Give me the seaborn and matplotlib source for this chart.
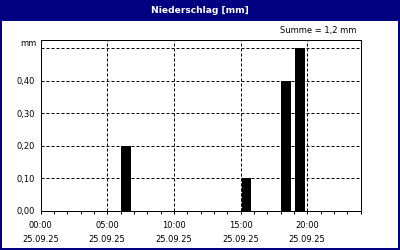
import numpy as np
import pandas as pd
import matplotlib
matplotlib.use("Agg")
import matplotlib.pyplot as plt
from matplotlib.patches import Rectangle
from matplotlib.ticker import MultipleLocator
import seaborn as sns

# ---- data ----
hour_start = [6, 15, 18, 19]          # hour of day the interval starts
precip_mm = [0.20, 0.10, 0.40, 0.50]  # precipitation per interval [mm]
x_ticks = [0, 5, 10, 15, 20]
x_tick_labels = ["00:00\n25.09.25", "05:00\n25.09.25", "10:00\n25.09.25",
                 "15:00\n25.09.25", "20:00\n25.09.25"]
y_ticks = [0.0, 0.1, 0.2, 0.3, 0.4]
y_tick_labels = ["0,00", "0,10", "0,20", "0,30", "0,40"]
title = "Niederschlag [mm]"
sum_text = "Summe = 1,2 mm"
unit = "mm"

# ---- style ----
NAVY = "#000080"
BAR_OFFSET = 0.425
PX = 72 / 100  # one pixel in points

sns.set_style("white")
plt.rcParams["font.family"] = ["DejaVu Sans"]
plt.rcParams["text.color"] = "black"
plt.rcParams["xtick.color"] = "black"
plt.rcParams["ytick.color"] = "black"
plt.rcParams["xtick.labelcolor"] = "black"
plt.rcParams["ytick.labelcolor"] = "black"

W, H = 400, 250
fig = plt.figure(figsize=(W / 100, H / 100), dpi=100)
fig.patch.set_facecolor("white")

# title bar
fig.patches.append(Rectangle((0, 1 - 21 / H), 1, 21 / H, transform=fig.transFigure,
                             facecolor=NAVY, edgecolor="none", zorder=0))
# outer border
fig.patches.append(Rectangle((0, 0), 1, 1, transform=fig.transFigure, fill=False,
                             edgecolor=NAVY, linewidth=4 * PX, zorder=5))
fig.text(0.5, 1 - 10.5 / H, title, color="white", fontsize=6.6, fontweight="bold",
         ha="center", va="center")
fig.text(356 / W, 1 - 31 / H, sum_text, color="black", fontsize=6,
         ha="right", va="center")

left, right, top, bottom = 40.5, 360.5, 40, 210.7
ax = fig.add_axes([left / W, 1 - bottom / H, (right - left) / W, (bottom - top) / H])

df = pd.DataFrame({"x": np.array(hour_start, dtype=float) + BAR_OFFSET, "mm": precip_mm})
sns.barplot(data=df, x="x", y="mm", native_scale=True, width=0.75, color="black",
            saturation=1, errorbar=None, linewidth=0, ax=ax, zorder=1)

ax.set_xlim(0, 24)
ax.set_ylim(0, 0.5245)
ax.set_xticks(x_ticks)
ax.set_xticklabels(x_tick_labels, fontsize=6, linespacing=1.8, color="black")
ax.xaxis.set_minor_locator(MultipleLocator(1))
ax.set_yticks(y_ticks + [0.5])
ax.set_yticklabels(y_tick_labels + [""], fontsize=6, color="black")
ax.set_xlabel("")
ax.set_ylabel("")

ax.tick_params(axis="x", which="both", direction="out", length=3 * PX, width=PX,
               color="black", pad=5, bottom=True)
ax.tick_params(axis="y", which="both", length=0, pad=4)
ax.annotate(unit, xy=(0, 0.5), xycoords=("axes fraction", "data"),
            xytext=(-4 * PX, 4 * PX), textcoords="offset points",
            ha="right", va="center", fontsize=6, color="black")

for s in ax.spines.values():
    s.set_color("black")
    s.set_linewidth(PX)
    s.set_visible(True)

ax.set_axisbelow(False)
ax.xaxis.grid(False)
ax.yaxis.grid(True, color="black", linestyle=(0, (3, 2)), linewidth=PX)
for xt in x_ticks[1:]:
    ax.axvline(xt, color="black", linestyle=(0, (3, 2)), linewidth=PX,
               gapcolor="white", zorder=3)

fig.savefig("out.png", dpi=100)
